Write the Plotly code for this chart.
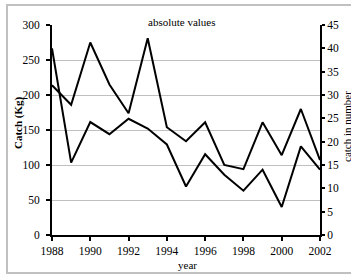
import plotly.graph_objects as go

years = list(range(1988, 2003))
catch_kg = [214, 186, 275, 215, 174, 281, 154, 134, 161, 100, 94, 161, 114, 180, 107]
catch_number = [40, 15.5, 24.2, 21.6, 24.9, 22.8, 19.4, 10.4, 17.3, 12.9, 9.5, 14, 6, 19, 14]
left_ticks = [0, 50, 100, 150, 200, 250, 300]
right_ticks = [0, 5, 10, 15, 20, 25, 30, 35, 40, 45]
x_ticks = list(range(1988, 2003, 2))

FONT = "Liberation Serif, Times New Roman, serif"

fig = go.Figure()
fig.add_trace(go.Scatter(x=years, y=catch_kg, mode="lines",
                         line=dict(color="black", width=2), yaxis="y", showlegend=False))
fig.add_trace(go.Scatter(x=years, y=catch_number, mode="lines",
                         line=dict(color="black", width=2), yaxis="y2", showlegend=False))

W, H = 351, 275
L, R, T, B = 52, 31, 25, 40
pw, ph = W - L - R, H - T - B

def px_x(p):
    return (p - L) / pw

def px_y(p):
    return (H - B - p) / ph

fig.update_layout(
    width=W, height=H,
    margin=dict(l=L, r=R, t=T, b=B),
    paper_bgcolor="white", plot_bgcolor="white",
    font=dict(family=FONT, size=11.5, color="black"),
    xaxis=dict(range=[1988, 2002], tickvals=x_ticks, showgrid=False, zeroline=False,
               showline=True, linecolor="black", linewidth=2,
               ticks="outside", ticklen=4, tickwidth=2, tickcolor="black"),
    yaxis=dict(range=[0, 300], tickvals=left_ticks, showgrid=True, gridcolor="#c0c0c0",
               gridwidth=1, zeroline=False, showline=True, linecolor="black", linewidth=2,
               ticks="outside", ticklen=4, tickwidth=2, tickcolor="black",
               ticklabelstandoff=4),
    yaxis2=dict(range=[0, 45], tickvals=right_ticks, overlaying="y", side="right",
                showgrid=False, zeroline=False, showline=True, linecolor="black", linewidth=2,
                ticks="outside", ticklen=3, tickwidth=2, tickcolor="black"),
    shapes=[dict(type="rect", xref="paper", yref="paper",
                 x0=px_x(7), x1=px_x(356), y0=px_y(273), y1=px_y(5),
                 line=dict(color="#c0c0c0", width=2), fillcolor="rgba(0,0,0,0)", layer="above")],
    annotations=[
        dict(text="absolute values", xref="paper", yref="paper", x=px_x(182), y=px_y(21.5),
             showarrow=False, font=dict(size=11), xanchor="center", yanchor="middle"),
        dict(text="year", xref="paper", yref="paper", x=px_x(187), y=px_y(265),
             showarrow=False, font=dict(size=11), xanchor="center", yanchor="middle"),
        dict(text="<b>Catch (Kg)</b>", xref="paper", yref="paper", x=px_x(18), y=px_y(123),
             showarrow=False, textangle=-90, font=dict(size=11), xanchor="center", yanchor="middle"),
        dict(text="catch in number", xref="paper", yref="paper", x=px_x(347), y=px_y(127),
             showarrow=False, textangle=-90, font=dict(size=11), xanchor="center", yanchor="middle"),
    ],
)

fig.write_html("out.html", config={"displayModeBar": False},
               post_script="document.body.style.margin='0';document.body.style.overflow='hidden';")
